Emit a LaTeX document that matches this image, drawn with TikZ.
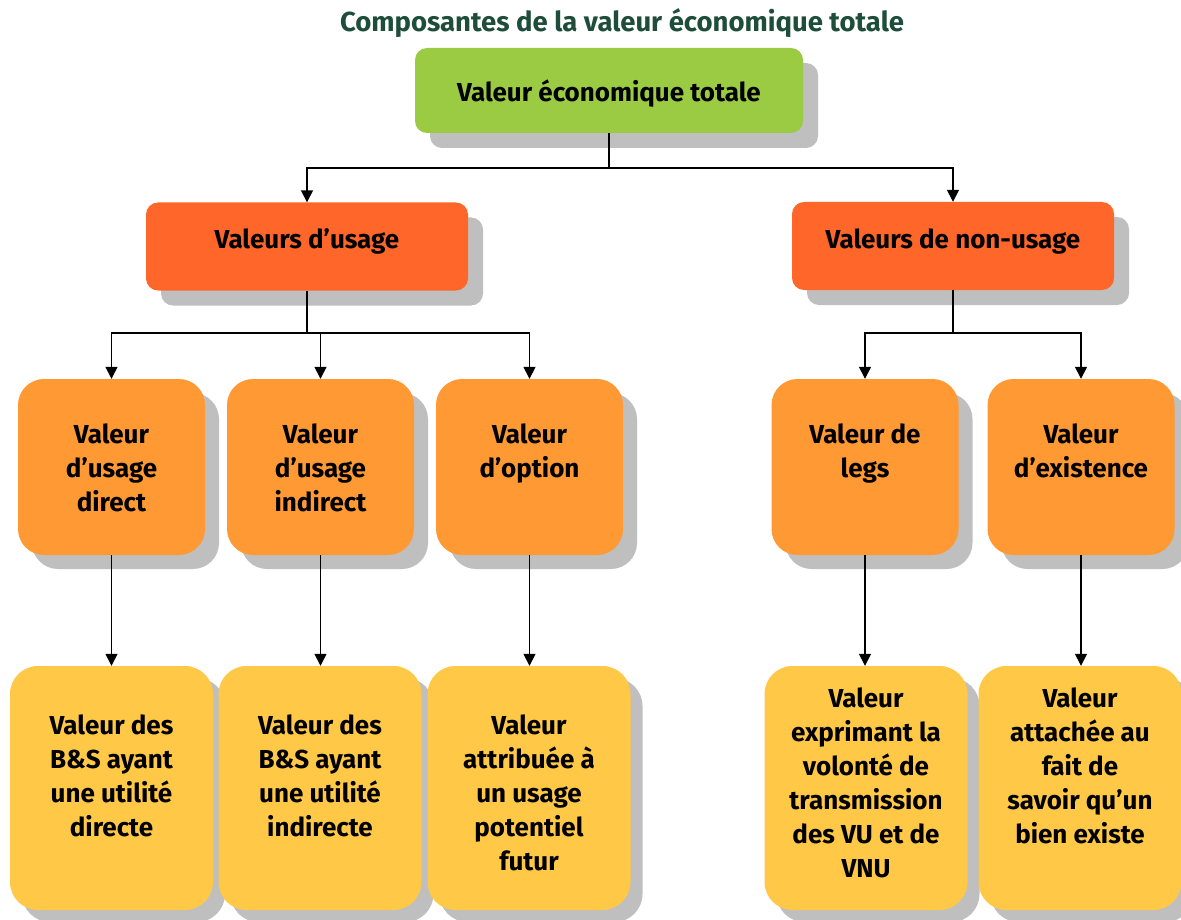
\documentclass[tikz,border=0pt]{standalone}
\usepackage{fontspec}
\setmainfont{Fira Sans}
\usetikzlibrary{arrows.meta,shadows}
\definecolor{cgreen}{HTML}{9BCB43}
\definecolor{cred}{HTML}{FF6629}
\definecolor{corange}{HTML}{FF9933}
\definecolor{cyellow}{HTML}{FFC846}
\definecolor{cshadow}{HTML}{BFBFBF}
\definecolor{ctitle}{HTML}{1E4D3C}
\newcommand\boxtxt[2]{\raisebox{#1pt}[0pt][0pt]{\begin{tabular}[t]{@{}c@{}}#2\end{tabular}}}
\begin{document}
\begin{tikzpicture}[x=1pt,y=-1pt,
  basebox/.style={rectangle, inner sep=0pt, text=black,
    font=\fontsize{26}{34}\selectfont\bfseries},
  greenbox/.style={basebox, rounded corners=12pt, fill=cgreen,
    minimum width=388pt, minimum height=85pt,
    general shadow={fill=cshadow, shadow xshift=15pt, shadow yshift=-15pt}},
  redbox/.style={basebox, rounded corners=12pt, fill=cred,
    minimum width=322pt, minimum height=88pt,
    general shadow={fill=cshadow, shadow xshift=15pt, shadow yshift=-15pt}},
  orangebox/.style={basebox, rounded corners=26pt, fill=corange,
    minimum width=187pt, minimum height=176pt,
    general shadow={fill=cshadow, shadow xshift=14pt, shadow yshift=-14pt}},
  yellowbox/.style={basebox, rounded corners=28pt, fill=cyellow,
    minimum width=203pt, minimum height=244pt,
    general shadow={fill=cshadow, shadow xshift=12pt, shadow yshift=-12pt}},
  conn/.style={draw=black, line width=1.5pt},
  arr/.style={conn, -{Triangle[width=12pt,length=12pt]}}
]
\useasboundingbox (0,0) rectangle (1181,920);
\fill[white] (0,0) rectangle (1181,920);

\node[anchor=base, text=ctitle, font=\fontsize{27.5}{32}\selectfont\bfseries] (title) at (622,32) {Composantes de la valeur économique totale};

\node[greenbox] (vet) at (609,90.5) {\boxtxt{-11}{Valeur économique totale}};
\node[redbox] (vu) at (307,246.5) {\boxtxt{-2}{Valeurs d’usage}};
\node[redbox] (vnu) at (953,246) {\boxtxt{-2}{Valeurs de non-usage}};

\node[orangebox] (od) at (111.5,467) {\boxtxt{24}{Valeur\\d’usage\\direct}};
\node[orangebox] (oi) at (320.5,467) {\boxtxt{24}{Valeur\\d’usage\\indirect}};
\node[orangebox] (oo) at (529.5,467) {\boxtxt{24}{Valeur\\d’option}};
\node[orangebox] (ol) at (865,467) {\boxtxt{24}{Valeur de\\legs}};
\node[orangebox] (oe) at (1081,467) {\boxtxt{24}{Valeur\\d’existence}};

\node[yellowbox] (yd) at (111.5,788) {\boxtxt{54}{Valeur des\\B\&S ayant\\une utilité\\directe}};
\node[yellowbox] (yi) at (320,788) {\boxtxt{54}{Valeur des\\B\&S ayant\\une utilité\\indirecte}};
\node[yellowbox] (yo) at (529,788) {\boxtxt{54}{Valeur\\attribuée à\\un usage\\potentiel\\futur}};
\node[yellowbox] (yl) at (866,788) {\boxtxt{81}{Valeur\\exprimant la\\volonté de\\transmission\\des VU et de\\VNU}};
\node[yellowbox] (ye) at (1080,788) {\boxtxt{81}{Valeur\\attachée au\\fait de\\savoir qu’un\\bien existe}};

\coordinate (j0) at (609,168);
\coordinate (j1) at (307,333);
\coordinate (j2) at (953,333);

\draw[conn] (vet.south) -- (j0);
\draw[arr] (j0) -| (vu.north);
\draw[arr] (j0) -| (vnu.north);

\draw[conn] (vu.south) -- (j1);
\draw[arr] (j1) -| (od.north);
\draw[arr] (j1) -| (oi.north);
\draw[arr] (j1) -| (oo.north);

\draw[conn] (vnu.south) -- (j2);
\draw[arr] (j2) -| (ol.north);
\draw[arr] (j2) -| (oe.north);

\draw[arr] (od.south) -- (od.south |- yd.north);
\draw[arr] (oi.south) -- (oi.south |- yi.north);
\draw[arr] (oo.south) -- (oo.south |- yo.north);
\draw[arr] (ol.south) -- (ol.south |- yl.north);
\draw[arr] (oe.south) -- (oe.south |- ye.north);
\end{tikzpicture}
\end{document}
